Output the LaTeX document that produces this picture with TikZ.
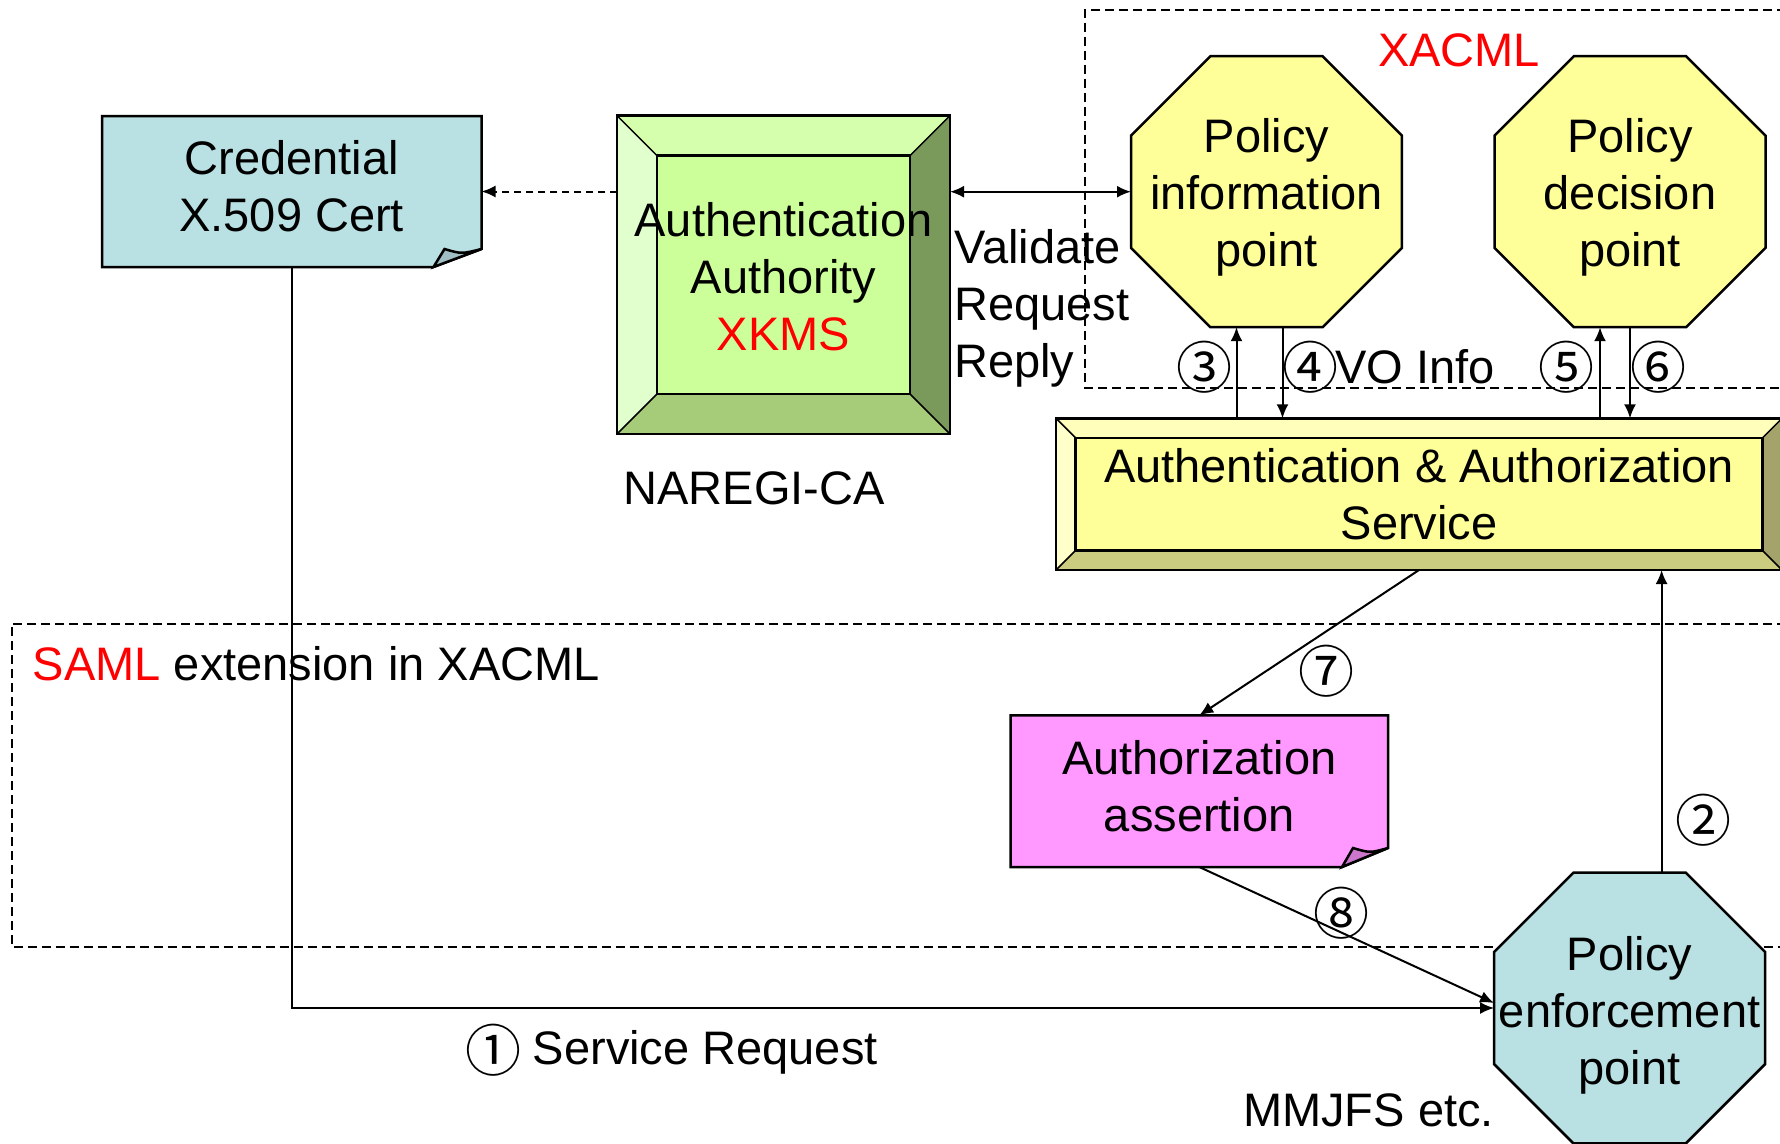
\documentclass[tikz,border=0pt]{standalone}
\usepackage{fontspec}
\setmainfont{Liberation Sans}
\newfontfamily\cnfont{Noto Sans CJK JP}
\usetikzlibrary{arrows.meta,shapes.geometric,calc}
\definecolor{credblue}{HTML}{B9E0E3}
\definecolor{credfold}{HTML}{9FBFC4}
\definecolor{pinkbox}{HTML}{FF99FF}
\definecolor{pinkfold}{HTML}{CC77CC}
\definecolor{yel}{HTML}{FFFF99}
\definecolor{yeltop}{HTML}{FFFFBB}
\definecolor{yelleft}{HTML}{FFFFCC}
\definecolor{yelright}{HTML}{A3A36B}
\definecolor{yelbot}{HTML}{CCCC80}
\definecolor{grn}{HTML}{CCFF99}
\definecolor{grntop}{HTML}{D6FFAD}
\definecolor{grnleft}{HTML}{E0FFCC}
\definecolor{grnright}{HTML}{7A9A5B}
\definecolor{grnbot}{HTML}{A6CC7A}
\definecolor{xred}{HTML}{FF0000}
\newcommand\bevelbox[7]{%
  \fill[#4] (#1.north west) -- (#1.north east) -- ([xshift=-#2,yshift=-#2]#1.north east) -- ([xshift=#2,yshift=-#2]#1.north west) -- cycle;
  \fill[#5] (#1.north west) -- ([xshift=#2,yshift=-#2]#1.north west) -- ([xshift=#2,yshift=#2]#1.south west) -- (#1.south west) -- cycle;
  \fill[#6] (#1.north east) -- ([xshift=-#2,yshift=-#2]#1.north east) -- ([xshift=-#2,yshift=#2]#1.south east) -- (#1.south east) -- cycle;
  \fill[#7] (#1.south west) -- ([xshift=#2,yshift=#2]#1.south west) -- ([xshift=-#2,yshift=#2]#1.south east) -- (#1.south east) -- cycle;
  \fill[#3] ([xshift=#2,yshift=-#2]#1.north west) rectangle ([xshift=-#2,yshift=#2]#1.south east);
  \draw[outl] (#1.north west) rectangle (#1.south east);
  \draw[outl] ([xshift=#2,yshift=-#2]#1.north west) rectangle ([xshift=-#2,yshift=#2]#1.south east);
  \draw[line width=1.5pt] (#1.north west) -- ([xshift=#2,yshift=-#2]#1.north west) (#1.north east) -- ([xshift=-#2,yshift=-#2]#1.north east) (#1.south east) -- ([xshift=-#2,yshift=#2]#1.south east) (#1.south west) -- ([xshift=#2,yshift=#2]#1.south west);
}
\begin{document}
\begin{tikzpicture}[x=1pt,y=-1pt,
  txt/.style={font=\fontsize{47}{57}\selectfont, inner sep=0pt, align=center},
  cn/.style={font=\cnfont\fontsize{56}{56}\selectfont, inner sep=0pt},
  geo/.style={inner sep=0pt, outer sep=0pt},
  arr/.style={line width=2pt, -{Latex[length=14pt,width=12pt]}},
  arrb/.style={line width=2pt, {Latex[length=14pt,width=12pt]}-{Latex[length=14pt,width=12pt]}},
  dbox/.style={line width=2pt, dash pattern=on 9pt off 5pt},
  outl/.style={line width=2.5pt, line join=miter},
  octo/.style={regular polygon, regular polygon sides=8, minimum size=293.3pt, inner sep=0pt, outer sep=0pt, draw, line width=2.5pt},
]
\useasboundingbox (0,0) rectangle (1780,1143);
\fill[white] (0,0) rectangle (1780,1143);

% dashed group frames
\draw[dbox] (1800,9.6) -| (1085,387.7) -- (1800,387.7);
\draw[dbox] (1800,623.7) -| (11.5,947) -- (1800,947);

% geometry nodes
\node[geo, minimum width=379.5pt, minimum height=151pt] (cred) at (291.75,191.5) {};
\node[geo, minimum width=333pt, minimum height=318.4pt] (ca) at (783.5,274.8) {};
\node[octo, fill=yel] (pip) at (1266.5,191.7) {};
\node[octo, fill=yel] (pdp) at (1630,191.7) {};
\node[geo, minimum width=726pt, minimum height=151.7pt] (aas) at (1419,494.15) {};
\node[geo, minimum width=377.4pt, minimum height=151.7pt] (asrt) at (1199.3,791.15) {};
\node[octo, fill=credblue] (pep) at (1629.6,1008) {};

% credential note
\draw[outl, fill=credblue] (cred.north west) -- (cred.north east) -- ([yshift=18pt]cred.south east) -- ([xshift=-48pt]cred.south east) -- (cred.south west) -- cycle;
\draw[outl, fill=credfold] ([xshift=-48pt]cred.south east) -- ([xshift=-37pt,yshift=18pt]cred.south east) .. controls ([xshift=-20pt,yshift=13pt]cred.south east) .. ([yshift=18pt]cred.south east) -- cycle;
% assertion note
\draw[outl, fill=pinkbox] (asrt.north west) -- (asrt.north east) -- ([yshift=19pt]asrt.south east) -- ([xshift=-46pt]asrt.south east) -- (asrt.south west) -- cycle;
\draw[outl, fill=pinkfold] ([xshift=-46pt]asrt.south east) -- ([xshift=-35pt,yshift=19pt]asrt.south east) .. controls ([xshift=-18pt,yshift=14pt]asrt.south east) .. ([yshift=19pt]asrt.south east) -- cycle;

% bevelled boxes
\bevelbox{ca}{40pt}{grn}{grntop}{grnleft}{grnright}{grnbot}
\bevelbox{aas}{19.5pt}{yel}{yeltop}{yelleft}{yelright}{yelbot}

% connectors
\draw[arr, dash pattern=on 7pt off 5pt] (ca.west |- cred.east) -- (cred.east);
\draw[arrb] (ca.east |- pip.west) -- (pip.west);
\draw[arr] (cred.south) |- (pep.west);
\draw[arr] ([xshift=32pt]pep.north) -- ([xshift=32pt]pep.north |- aas.south);
\draw[arr] ([xshift=-30pt]pip.south |- aas.north) -- ([xshift=-30pt]pip.south);
\draw[arr] ([xshift=16pt]pip.south) -- ([xshift=16pt]pip.south |- aas.north);
\draw[arr] ([xshift=-30pt]pdp.south |- aas.north) -- ([xshift=-30pt]pdp.south);
\draw[arr] (pdp.south) -- (pdp.south |- aas.north);
\draw[arr] (aas.south) -- (asrt.north);
\draw[arr] (asrt.south) -- ([yshift=5pt]pep.west);

% texts in shapes
\node[txt, yshift=5pt] at (cred) {Credential\\X.509 Cert};
\node[txt, yshift=-2pt] at (ca) {Authentication\\Authority\\\textcolor{xred}{XKMS}};
\node[txt, yshift=-6pt] at (pip) {Policy\\information\\point};
\node[txt, yshift=-6pt] at (pdp) {Policy\\decision\\point};
\node[txt] at (aas) {Authentication \& Authorization\\Service};
\node[txt, yshift=5pt] at (asrt) {Authorization\\assertion};
\node[txt, yshift=-7pt] at (pep) {Policy\\enforcement\\point};

% free labels
\node[txt, text=xred] (lxacml) at (1459,50) {XACML};
\node[txt] (lnaregi) at (754,488) {NAREGI-CA};
\node[txt, align=left, anchor=west] (lvrr) at (954,308.6) {Validate\\Request\\Reply};
\node[txt, anchor=west] (lsaml) at (32.7,663.5) {\textcolor{xred}{SAML} extension in XACML};
\node[cn] (n1) at (493,1050) {①};
\node[txt, anchor=west] (lsr) at (532.7,1052) {Service Request};
\node[txt] (lmm) at (1368.5,1110.5) {MMJFS etc.};
\node[cn] (n3) at (1204,367) {③};
\node[cn] (n4) at (1310.5,367) {④};
\node[txt, anchor=west] (lvo) at (1335,367) {VO Info};
\node[cn] (n5) at (1566,367) {⑤};
\node[cn] (n6) at (1658.5,367) {⑥};
\node[cn] (n7) at (1326,671) {⑦};
\node[cn] (n2) at (1703,820) {②};
\node[cn] (n8) at (1341,913) {⑧};
\end{tikzpicture}
\end{document}
